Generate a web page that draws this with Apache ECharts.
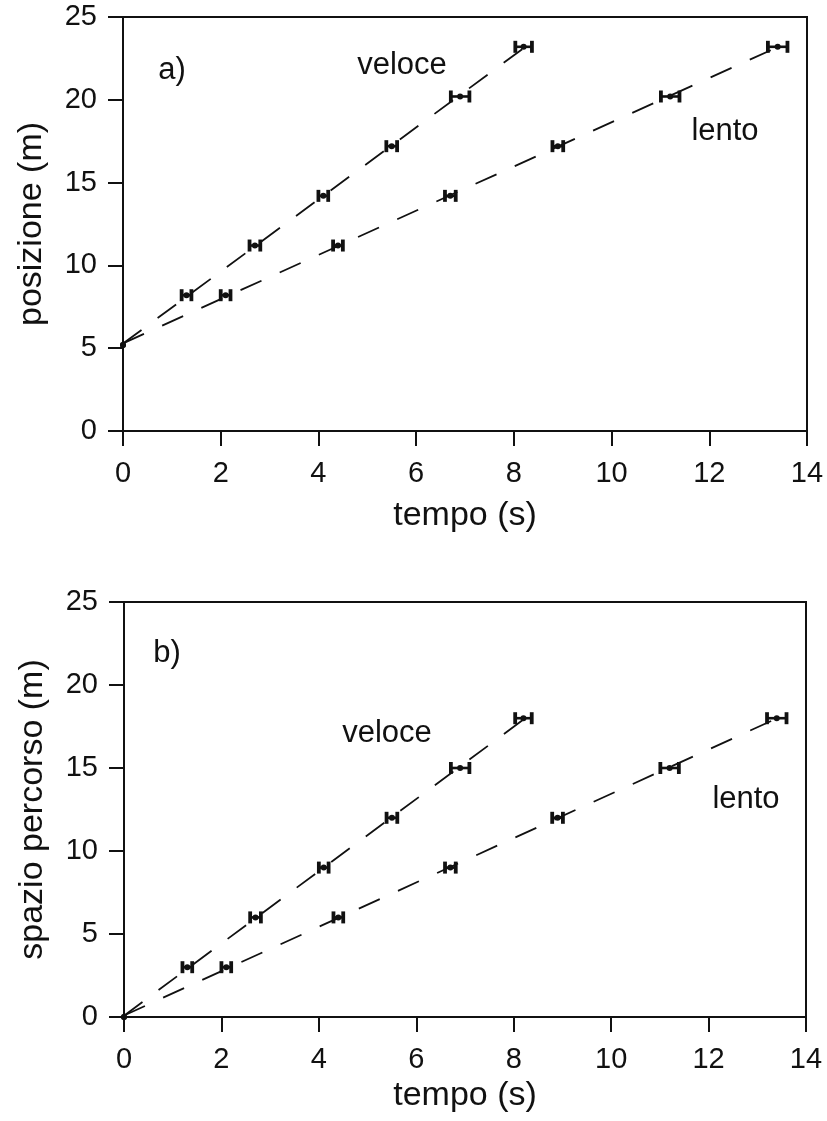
<!DOCTYPE html>
<html>
<head>
<meta charset="utf-8">
<script src="https://cdn.jsdelivr.net/npm/echarts@6/dist/echarts.min.js"></script>
<style>
html,body{margin:0;padding:0;background:#fff;}
#chart{width:827px;height:1121px;}
</style>
</head>
<body>
<div id="chart"></div>
<script>
// ---- data ----
const tVeloce = [0, 1.3, 2.7, 4.1, 5.5, 6.9, 8.2];
const errVeloce = [0, 0.1, 0.11, 0.1, 0.11, 0.19, 0.17];
const tLento = [0, 2.1, 4.4, 6.7, 8.9, 11.2, 13.4];
const errLento = [0, 0.1, 0.1, 0.11, 0.11, 0.19, 0.2];
const posizione = [5.2, 8.2, 11.2, 14.2, 17.2, 20.2, 23.2];
const spazio = [0, 3, 6, 9, 12, 15, 18];
const xTicks = [0, 2, 4, 6, 8, 10, 12, 14];
const yTicks = [0, 5, 10, 15, 20, 25];

const FONT = 'Liberation Sans, Arial, Helvetica, sans-serif';
const INK = '#111';

function fit(xs, ys) {
  const n = xs.length;
  const mx = xs.reduce((a, b) => a + b, 0) / n;
  const my = ys.reduce((a, b) => a + b, 0) / n;
  let sxy = 0, sxx = 0;
  for (let i = 0; i < n; i++) { sxy += (xs[i] - mx) * (ys[i] - my); sxx += (xs[i] - mx) ** 2; }
  const b = sxy / sxx, a = my - b * mx;
  const x0 = xs[0], x1 = xs[n - 1];
  return [[x0, a + b * x0], [x1, a + b * x1]];
}

function pts(ts, ys, es) { return ts.map((t, i) => [t, ys[i], es[i]]); }

function renderErr(params, api) {
  const t = api.value(0), y = api.value(1), e = api.value(2);
  const c = api.coord([t, y]);
  const children = [];
  if (e > 0) {
    const l = api.coord([t - e, y]);
    const r = api.coord([t + e, y]);
    children.push({ type: 'line', shape: { x1: l[0], y1: l[1], x2: r[0], y2: r[1] }, style: { stroke: INK, lineWidth: 2.6 } });
    children.push({ type: 'line', shape: { x1: l[0], y1: l[1] - 6, x2: l[0], y2: l[1] + 6 }, style: { stroke: INK, lineWidth: 3.8 } });
    children.push({ type: 'line', shape: { x1: r[0], y1: r[1] - 6, x2: r[0], y2: r[1] + 6 }, style: { stroke: INK, lineWidth: 3.8 } });
  }
  children.push({ type: 'circle', shape: { cx: c[0], cy: c[1], r: 3 }, style: { fill: INK } });
  return { type: 'group', children };
}

function xAxisCfg(gridIndex, nameGap) {
  return {
    type: 'value', gridIndex, min: 0, max: 14, interval: 2,
    name: 'tempo (s)', nameLocation: 'middle', nameGap,
    nameTextStyle: { fontFamily: FONT, fontSize: 34, color: INK },
    axisLine: { show: true, onZero: false, lineStyle: { color: INK, width: 2 } },
    axisTick: { show: true, length: 15, lineStyle: { color: INK, width: 2 } },
    axisLabel: { fontFamily: FONT, fontSize: 29, color: INK, margin: 28,
      formatter: v => xTicks.includes(v) ? String(v) : '' },
    splitLine: { show: false }
  };
}
function yAxisCfg(gridIndex, name) {
  return {
    type: 'value', gridIndex, min: 0, max: 25, interval: 5,
    name, nameLocation: 'middle', nameGap: 74, nameRotate: 90,
    nameTextStyle: { fontFamily: FONT, fontSize: 34, color: INK },
    axisLine: { show: true, onZero: false, lineStyle: { color: INK, width: 2 } },
    axisTick: { show: true, length: 15, lineStyle: { color: INK, width: 2 } },
    axisLabel: { fontFamily: FONT, fontSize: 29, color: INK, margin: 26,
      formatter: v => yTicks.includes(v) ? String(v) : '' },
    splitLine: { show: false }
  };
}

function fitSeries(idx, ts, ys) {
  return {
    type: 'line', xAxisIndex: idx, yAxisIndex: idx, data: fit(ts, ys),
    symbol: 'none', silent: true, z: 2,
    lineStyle: { color: INK, width: 1.8, type: [23, 20] }
  };
}
function errSeries(idx, ts, ys, es) {
  return {
    type: 'custom', xAxisIndex: idx, yAxisIndex: idx, renderItem: renderErr,
    data: pts(ts, ys, es), z: 5,
    encode: { x: 0, y: 1 }
  };
}

function labelC(text, cx, cy) {
  return { type: 'text', x: cx, y: cy, z: 10,
    style: { text, fontFamily: FONT, fontSize: 31, fill: INK, align: 'center', verticalAlign: 'middle' } };
}

const chart = echarts.init(document.getElementById('chart'), null, { renderer: 'canvas' });
chart.setOption({
  backgroundColor: '#fff',
  animation: false,
  grid: [
    { left: 123, width: 684, top: 17, height: 414, show: true, borderColor: INK, borderWidth: 2, backgroundColor: 'transparent' },
    { left: 124, width: 682, top: 602, height: 415, show: true, borderColor: INK, borderWidth: 2, backgroundColor: 'transparent' }
  ],
  xAxis: [xAxisCfg(0, 68), xAxisCfg(1, 62)],
  yAxis: [yAxisCfg(0, 'posizione (m)'), yAxisCfg(1, 'spazio percorso (m)')],
  series: [
    fitSeries(0, tVeloce, posizione),
    fitSeries(0, tLento, posizione),
    errSeries(0, tVeloce, posizione, errVeloce),
    errSeries(0, tLento, posizione, errLento),
    fitSeries(1, tVeloce, spazio),
    fitSeries(1, tLento, spazio),
    errSeries(1, tVeloce, spazio, errVeloce),
    errSeries(1, tLento, spazio, errLento)
  ],
  graphic: [
    labelC('a)', 172, 70),
    labelC('veloce', 402, 65),
    labelC('lento', 725, 131),
    labelC('b)', 167, 653),
    labelC('veloce', 387, 733),
    labelC('lento', 746, 799)
  ]
});
</script>
</body>
</html>
